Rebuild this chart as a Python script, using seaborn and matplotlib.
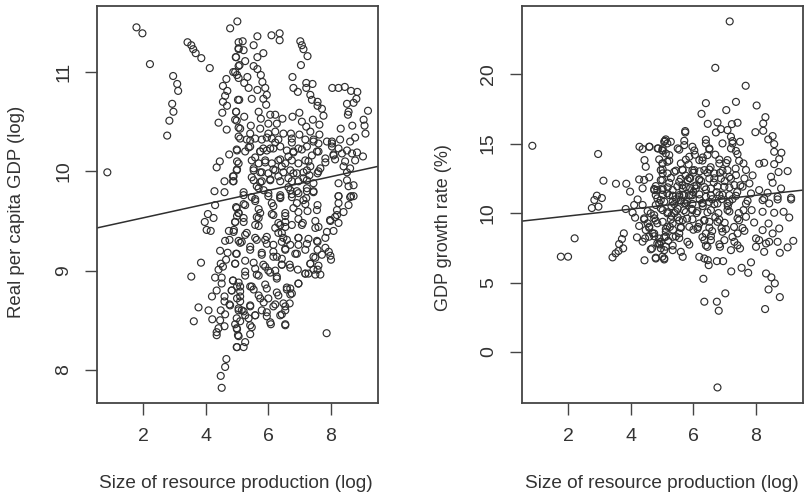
import matplotlib
matplotlib.use("Agg")
import matplotlib.pyplot as plt
import numpy as np
import pandas as pd
import seaborn as sns

# ---- left panel: log real per capita GDP against log resource production
gdp_a_x = [1.79,1.98,2.22,2.96,3.09,3.12,2.93,2.97,2.84,2.77,0.86,3.42,3.54,3.6,3.68,3.86,4.13,4.78,5.01,
           4.66,4.55,4.69,4.62,4.55,4.68,4.53,4.41,4.67,4.75,4.45,4.35,4.6,4.87,4.28,4.6,4.88,4.96,5.03,4.97,4.94,
           5.05,5.05,5.0,5.0,5.0,4.87,5.05,5.05,5.05,5.0]
gdp_a_y = [11.45,11.39,11.08,10.96,10.88,10.81,10.68,10.6,10.51,10.36,9.99,11.3,11.27,11.23,11.19,11.14,11.04,11.44,11.51,
           10.93,10.86,10.81,10.76,10.7,10.66,10.59,10.49,10.42,10.17,10.1,10.04,9.9,9.9,9.8,9.79,11.0,11.15,10.72,10.6,10.52,
           10.44,10.35,10.21,10.1,10.02,9.95,11.3,11.23,11.06,10.97]

gdp_b_x = [4.3,4.07,4.25,3.97,4.03,4.16,3.85,3.54,3.77,3.62,4.09,4.21,4.2,4.35,4.3,4.51,4.41,4.48,4.55,4.65,
           4.46,4.7,4.62,4.76,4.74,4.9,4.94,5.0,4.97,5.05,4.97,4.94,4.87,4.51,4.83,5.0,4.6,4.6,4.76,4.48,
           4.62,4.46,4.6,4.41,4.35,4.35,5.0,5.05,4.94,5.0,5.03,5.0,4.66,4.62,4.48,4.51]
gdp_b_y = [9.66,9.57,9.53,9.49,9.41,9.4,9.08,8.94,8.63,8.49,8.6,8.51,8.74,8.8,8.93,8.93,9.01,9.07,9.04,9.11,
           9.2,9.18,9.3,9.31,9.4,9.41,9.49,9.55,9.64,9.3,9.17,9.07,8.9,8.87,8.8,8.84,8.74,8.69,8.66,8.6,
           8.56,8.5,8.44,8.42,8.38,8.35,8.72,8.6,8.46,8.41,8.35,8.23,8.11,8.03,7.94,7.82]

gdp_c_x = [5.65,6.1,6.36,6.36,5.53,5.18,5.05,5.21,5.84,4.97,5.26,5.65,5.08,5.53,5.65,4.94,5.05,5.33,5.76,5.81,
           5.23,5.37,5.65,5.9,5.95,5.47,5.07,5.84,5.93,5.69,4.97,5.23,4.99,5.76,6.06,6.22,6.45,6.0,6.27,5.44,5.1,5.74,
           7.02,7.07,7.12,7.25,7.04,6.77,7.21,7.41,7.21,6.8,6.94,7.34,7.39,7.57,7.57,7.71,7.76,
           8.04,8.24,8.44,8.64,8.84,8.81,8.72,8.51,8.56,8.54,9.18,9.04,9.07,9.1,8.68,8.31,
           6.77,6.99,7.07,7.42,7.63,7.21,7.34,6.72,6.99,7.63,7.18,7.44,7.6,7.87,8.03,8.29,8.77,8.61,6.75,
           6.48,6.22,6.0,5.42,5.1,5.31,5.58,5.79,6.11,6.32]
gdp_c_y = [11.36,11.37,11.39,11.32,11.27,11.31,11.24,11.22,11.19,11.15,11.11,11.15,11.07,11.06,11.03,11.0,10.94,10.95,10.97,10.9,
           10.89,10.84,10.82,10.84,10.77,10.73,10.72,10.73,10.67,10.6,10.6,10.55,10.51,10.53,10.57,10.57,10.53,10.48,10.48,10.46,10.43,10.43,
           11.31,11.27,11.23,11.16,11.07,10.95,10.89,10.88,10.84,10.84,10.8,10.77,10.72,10.7,10.66,10.63,10.56,
           10.84,10.84,10.85,10.81,10.8,10.73,10.69,10.68,10.6,10.57,10.61,10.52,10.46,10.38,10.46,10.43,
           10.55,10.59,10.5,10.52,10.47,10.45,10.4,10.38,10.37,10.37,10.32,10.32,10.28,10.3,10.3,10.32,10.34,10.3,10.29,
           10.38,10.4,10.38,10.38,10.33,10.32,10.33,10.32,10.33,10.32]

gdp_d_x = [5.84,5.95,5.74,5.42,5.26,4.99,6.16,6.38,6.59,6.8,6.96,7.23,7.39,7.6,7.82,8.03,8.08,8.24,8.35,8.51,8.67,8.83,9.02,8.77,8.45,8.4,8.61,8.51,7.66,7.57,
           5.47,5.69,5.9,6.11,6.32,6.54,6.75,6.96,7.18,7.34,5.05,4.99,4.89,4.89,
           5.53,5.74,6.0,6.22,6.48,6.7,6.91,7.12,7.31,5.53,5.79,6.06,6.38,6.64,6.96,7.23,
           5.21,5.47,5.69,6.0,6.38,6.7,6.96,7.23,7.44,8.24,8.51,8.72,8.24,8.56,8.61]
gdp_d_y = [10.23,10.21,10.2,10.25,10.2,10.22,10.23,10.25,10.21,10.2,10.23,10.25,10.16,10.2,10.13,10.25,10.16,10.23,10.18,10.21,10.18,10.19,10.15,10.11,10.1,10.05,10.03,9.99,10.03,9.98,
           10.11,10.08,10.11,10.08,10.11,10.08,10.11,10.08,10.11,10.05,10.08,10.01,9.95,9.9,
           10.01,9.99,9.98,10.01,9.99,10.01,9.98,9.99,9.96,9.91,9.9,9.91,9.9,9.93,9.9,9.91,
           9.79,9.74,9.83,9.78,9.76,9.81,9.78,9.8,9.8,9.88,9.91,9.86,9.75,9.85,9.74]

gdp_e_x = [8.24,8.64,8.72,8.56,8.24,8.19,8.4,8.13,7.97,8.24,8.08,7.87,7.57,7.5,7.6,7.82,7.57,7.28,6.96,7.1,7.25,7.21,6.91,6.75,6.96,6.38,6.54,6.16,5.74,5.69,5.58,
           5.21,5.05,5.21,4.94,4.99,6.11,5.58,6.38,6.54,6.22,6.75,6.32,6.48,6.59,6.43,6.7,6.96,7.18,6.86,6.54,6.16,6.27,6.43,6.43,6.68,6.94,7.18,7.34,7.44,7.57,7.71,7.93,8.0,
           7.44,7.57,7.66,7.28,6.96,6.7,6.59,6.75,6.68,6.48,6.54,6.38,6.16,6.32,6.54,6.08,5.95,5.79,6.0,5.95,6.27,6.22,6.0,5.84,5.58,5.63,5.26,5.79,5.26,4.94,4.99,5.42,
           5.15,5.58,5.9,5.95,5.31,4.89,4.87,5.1,5.47,5.53,5.74,5.1,5.05,5.42,5.58,5.37,4.99,4.99,5.05,5.42,5.47,5.26,5.21,4.99,7.86,4.78,4.83,5.26,5.15,6.54]
gdp_e_y = [9.75,9.75,9.75,9.66,9.68,9.61,9.59,9.54,9.51,9.48,9.4,9.39,9.66,9.5,9.44,9.33,9.29,9.32,9.33,9.48,9.6,9.73,9.68,9.74,9.59,9.74,9.58,9.56,9.58,9.53,9.46,
           9.67,9.58,9.53,9.49,9.63,9.68,9.7,9.46,9.44,9.43,9.46,9.38,9.33,9.31,9.29,9.26,9.26,9.21,9.17,9.21,9.19,9.14,9.12,9.06,9.06,9.01,8.97,9.07,9.14,9.21,9.16,9.19,9.11,
           9.01,9.01,8.96,8.97,8.87,8.82,8.81,8.77,8.67,8.67,8.6,8.55,8.64,8.75,8.45,8.46,8.54,8.6,8.72,8.82,8.92,9.0,9.0,9.06,9.02,8.96,8.95,9.16,9.1,9.07,9.17,9.21,
           9.29,9.33,9.31,9.27,9.38,9.39,8.9,8.84,8.84,8.81,8.72,8.74,8.62,8.64,8.55,8.52,8.52,8.42,8.34,8.36,8.43,8.28,8.23,8.23,8.37,8.65,8.8,8.55,8.6,9.49]

# second reading of the dense middle of the left panel
gdp_f_x = [5.42,5.95,6.22,6.75,7.44,8.03, 5.37,5.74,6.06,6.8,7.07,7.55,8.08, 5.58,5.9,6.38,6.64,7.28,7.82,8.13,
           5.53,5.79,6.16,6.43,6.8,7.23,7.6, 5.47,5.74,6.06,6.32,6.75,7.12,7.44, 5.63,5.85,6.64,6.91,7.23,7.44,
           5.21,5.58,6.0,6.38,6.75,7.12, 5.26,5.69,6.16,6.8,7.18,7.55, 5.05,5.63,6.11,6.54,6.96,8.19, 5.21,5.69,6.32,7.07,7.5,7.98]
gdp_f_y = [10.31,10.34,10.29,10.33,10.3,10.28, 10.24,10.2,10.23,10.19,10.22,10.2,10.17, 10.14,10.09,10.12,10.15,10.1,10.09,10.12,
           10.03,9.99,10.02,10.05,9.98,10.01,10.0, 9.94,9.89,9.92,9.95,9.9,9.93,9.88, 9.85,9.81,9.84,9.8,9.83,9.79,
           9.76,9.72,9.75,9.73,9.77,9.71, 9.66,9.62,9.65,9.63,9.67,9.61, 9.58,9.54,9.57,9.55,9.52,9.56, 9.49,9.45,9.48,9.46,9.43,9.5]

gdp_g_x = [5.26,5.63,5.95,6.43,6.96,7.55, 5.1,5.42,6.16,6.54,7.23,7.82, 5.79,6.16,6.91,7.5,7.98, 5.53,5.9,6.43,6.7,7.34,7.6,
           5.26,5.69,6.06,6.27,7.18,7.5, 5.05,5.42,5.9,6.59,6.96, 5.1,5.69,6.27,6.7, 5.1,5.42,5.85,6.22,6.54, 5.21,5.58,5.95,6.43, 5.1,5.42,6.06,6.54]
gdp_g_y = [9.36,9.31,9.34,9.38,9.33,9.3, 9.28,9.24,9.26,9.22,9.27,9.23, 9.18,9.14,9.17,9.13,9.15, 9.08,9.04,9.06,9.03,9.07,9.05,
           8.99,8.95,8.98,8.94,8.97,8.96, 8.88,8.84,8.86,8.83,8.87, 8.79,8.75,8.78,8.76, 8.69,8.65,8.68,8.66,8.64, 8.59,8.55,8.58,8.56, 8.49,8.45,8.48,8.46]

# ---- right panel: GDP growth rate against log resource production
growth_a_x = [0.86,2.96,3.13,3.53,3.86,3.98,3.08,2.92,2.84,2.76,2.97,2.21,1.77,2.0,3.78,3.72,3.63,3.76,3.61,3.52,3.42,4.44,4.8,5.07,
              4.28,4.6,4.88,5.01,5.09,4.44,4.48,4.59,4.43,4.27,4.38,4.75,5.01,4.96,5.01,4.85,5.01,4.85,5.07,4.96,4.22,4.11,3.84,4.38,4.06,4.14,
              4.43,4.64,4.75,4.27,4.2,4.38,4.48,4.59,4.46,4.7,4.59,4.64,4.85,4.96,5.12,5.12,4.96,5.17,5.17,5.17,5.17,5.17,5.12,5.17,4.8,4.54,4.85,5.01]
growth_a_y = [14.84,14.25,12.33,12.11,12.11,11.54,11.08,11.25,10.94,10.36,10.46,8.18,6.86,6.86,8.54,8.13,7.77,7.46,7.27,7.1,6.81,6.6,6.79,6.74,
              14.77,14.77,14.65,14.53,15.2,13.81,13.33,12.57,12.38,12.42,11.78,11.73,13.57,13.09,12.38,11.66,11.66,11.06,10.82,10.34,10.98,10.58,10.29,10.58,10.03,9.67,
              9.62,9.98,9.62,9.07,8.25,7.94,8.78,8.3,8.18,8.54,9.02,7.39,7.82,7.46,7.58,8.3,7.94,9.02,9.98,11.42,12.85,13.69,14.29,15.01,10.58,9.26,9.26,6.86]

growth_b_x = [7.16,6.7,7.67,6.4,7.36,8.02,7.05,6.26,8.3,6.46,6.77,7.23,7.41,8.23,6.88,7.09,6.72,7.98,8.23,5.74,5.74,8.39,8.53,8.58,8.58,8.81,8.74,8.58,8.26,8.1,9.01,8.72,7.89,
              7.2,6.93,7.25,7.49,7.2,7.41,7.6,7.09,6.83,6.4,6.51,6.45,5.97,5.71,5.28,5.07,5.02,5.5,4.59,4.86,5.23,5.02,5.6,5.87,6.19,6.03,5.66,5.39,5.02,
              6.35,6.67,7.09,7.36,7.63,6.88,6.51,6.19,5.82,5.55,5.23,4.96,8.48,8.53,7.79,7.31,6.99,6.56,6.08,5.66,5.34,5.02,4.75,
              4.8,5.23,5.55,5.97,6.4,6.83,7.15,7.84,8.1,8.37,8.8,9.12,8.69,8.26]
growth_b_y = [23.79,20.45,19.16,17.91,18.0,17.74,17.41,17.14,16.9,16.42,16.52,16.4,16.5,16.45,16.04,15.97,15.8,15.82,15.92,15.9,15.8,15.3,15.54,14.96,14.41,14.34,13.88,13.52,13.62,13.55,13.02,12.95,12.71,
              15.49,15.01,15.01,15.13,14.65,14.24,13.57,13.81,13.57,15.01,14.65,14.17,14.77,14.89,15.13,15.13,14.65,14.65,14.77,14.65,14.17,13.57,13.57,14.05,13.81,13.09,13.09,12.97,12.85,
              13.09,12.85,13.09,12.73,12.49,12.49,12.49,12.37,12.37,12.25,12.18,12.37,12.61,12.18,12.13,12.01,11.89,11.77,11.77,11.77,11.65,11.77,11.65,
              11.29,11.29,11.17,11.29,11.17,11.29,11.29,11.41,11.65,11.46,11.77,11.1,11.17,11.05]

growth_c_x = [6.77,6.35,6.75,6.81,7.02,6.32,8.29,8.76,8.4,8.6,8.49,8.32,7.21,7.75,7.54,7.84,6.95,6.75,6.49,6.46,6.35,6.19,5.66,5.07,4.8,
              8.76,9.01,9.19,8.69,8.26,8.0,8.32,8.1,8.42,7.2,7.49,6.85,6.45,5.81,5.6,5.34,5.07,4.68,4.91,6.35,6.56,6.99,7.31,7.41,7.63,8.0,8.21,8.53,8.74,8.4,7.94,7.41,7.68,
              8.21,8.58,8.88,9.06,7.6,7.86,7.73,8.21,8.42,8.69,9.12,6.77,6.51,6.19,5.87,5.66,5.34,5.12,4.75,5.02,4.75,5.02,5.34,4.96,5.76,5.97,6.29,6.56,6.77,7.09,6.4,5.55,5.34,4.91,6.93,7.15,5.87,5.55]
growth_c_y = [-2.55,3.62,3.62,2.97,4.22,5.27,3.09,3.95,4.5,4.94,5.37,5.65,5.8,5.7,6.06,6.45,6.54,6.54,6.25,6.61,6.73,6.85,6.85,6.66,6.73,
              7.14,7.53,8.0,7.93,7.21,7.57,7.81,8.05,7.93,7.33,7.45,7.57,7.57,7.93,7.21,7.33,7.33,7.45,7.81,8.05,8.05,8.05,7.93,8.53,8.72,8.17,8.77,8.53,8.89,9.25,9.32,9.61,9.73,
              10.09,10.02,10.09,9.68,10.21,10.21,10.88,10.93,10.69,10.98,10.98,9.37,9.37,9.25,9.01,9.49,9.25,8.65,8.53,9.37,9.85,10.21,10.81,10.93,10.69,10.21,10.69,10.21,10.69,10.21,8.53,8.53,8.29,8.17,8.65,10.81,11.29,11.29]

growth_d_x = [5.2,5.25,5.3,5.3,5.35,5.4,5.45,5.5,5.5,5.55,5.6,5.6,5.65,5.7,5.7,5.75,5.8,5.8,5.85,5.9,5.9,5.95,6.0,6.0,6.0,6.05,6.1,6.1,6.15,6.2,
              6.2,6.25,6.3,6.3,6.35,6.4,6.45,6.5,6.55,6.6,6.6,6.65,6.7,6.7,6.75,6.8,6.85,6.9,6.9,7.0,7.0,7.05,7.1,7.15,7.25,7.3,7.35,7.4,7.45,7.5]
growth_d_y = [8.0,9.0,9.8,10.5,8.8,10.0,11.0,9.7,10.3,8.2,10.9,9.0,12.0,10.2,11.3,12.7,9.6,10.8,13.5,11.8,12.5,10.3,8.8,11.5,12.9,14.2,10.0,12.0,9.0,11.0,
              13.0,12.3,14.0,10.5,9.5,11.7,12.9,10.8,13.3,11.0,8.7,12.2,9.7,14.2,11.5,10.0,12.9,8.9,11.0,12.3,9.3,13.6,10.5,12.6,11.0,9.0,13.2,11.5,10.0,12.0]

# second reading of the dense middle of the right panel
growth_e_x = [5.12,5.71,6.4,7.25, 4.38,5.02,5.55,6.03,6.51,7.36, 4.91,5.23,5.76,6.29,6.83,7.46,
              5.02,5.44,5.65,5.97,6.51,6.93,7.68, 5.28,5.6,5.87,6.19,6.67,7.2,
              4.8,5.18,5.49,5.76,6.03,6.35,6.77,7.15,7.57, 5.02,5.34,5.65,5.92,6.19,6.56,6.93,7.36]
growth_e_y = [15.3,15.2,15.27,15.18, 14.6,14.48,14.56,14.5,14.58,14.47, 13.86,13.77,13.84,13.78,13.85,13.76,
              13.14,13.05,13.12,13.07,13.13,13.04,13.1, 12.53,12.46,12.52,12.44,12.5,12.47,
              11.94,11.85,11.92,11.86,11.93,11.87,11.91,11.84,11.9, 11.33,11.25,11.31,11.27,11.34,11.26,11.32,11.24]

growth_f_x = [4.91,5.39,5.71,5.97,6.29,6.67,7.09,7.68, 4.54,5.18,5.44,5.76,6.13,6.45,7.15,
              4.43,4.8,5.28,5.55,5.97,6.35,6.83,7.46, 4.59,5.12,5.6,6.13,6.51,7.04,7.57,
              4.75,5.07,5.44,6.29,6.56,7.25, 4.91,5.34,5.87,6.4,6.83,7.41]
growth_f_y = [10.72,10.65,10.71,10.66,10.73,10.64,10.7,10.67, 10.14,10.06,10.12,10.07,10.13,10.05,10.11,
              9.54,9.46,9.53,9.47,9.55,9.45,9.52,9.48, 8.94,8.86,8.93,8.87,8.95,8.85,8.92,
              8.33,8.26,8.32,8.27,8.34,8.28, 7.74,7.66,7.73,7.67,7.75,7.68]

# ---- fitted lines, read at the two edges of each box
line_x = [0.53, 9.5]
gdp_line_y = [9.43, 10.05]
growth_line_y = [9.42, 11.65]

# ---- tick labels and axis titles
x_ticks = [2, 4, 6, 8]
gdp_ticks = [8, 9, 10, 11]
growth_ticks = [0, 5, 10, 15, 20]
x_title = "Size of resource production (log)"
gdp_title = "Real per capita GDP (log)"
growth_title = "GDP growth rate (%)"

sns.set_theme(style="white")
plt.rcParams["font.family"] = ["Liberation Sans", "DejaVu Sans"]

W, H = 806, 499
fig = plt.figure(figsize=(W / 100, H / 100), dpi=100)
ink = "#2f2f2f"
txt = "#333333"


def panel(left, right, xs, ys, line_y, ylim, yticks, ytitle, ytitle_x, ytitle_y, title_x, ytitle_size):
    ax = fig.add_axes([left / W, 1 - 403 / H, (right - left) / W, (403 - 6) / H])
    df = pd.DataFrame({"x": xs, "y": ys})
    sns.scatterplot(data=df, x="x", y="y", ax=ax, s=25, facecolor="none",
                    edgecolor=ink, linewidth=0.85, legend=False)
    sns.lineplot(x=line_x, y=line_y, ax=ax, color=ink, linewidth=1.1,
                 errorbar=None, estimator=None)
    ax.set_xlim(0.53, 9.5)
    ax.set_ylim(*ylim)
    ax.set_xticks(x_ticks)
    ax.set_yticks(yticks)
    ax.tick_params(axis="both", direction="out", length=8.5, width=1.0, color="#444444",
                   left=True, bottom=True, labelsize=14, labelcolor=txt, pad=9.5)
    for lab in ax.get_yticklabels():
        lab.set_rotation(90)
        lab.set_va("center")
    for sp in ax.spines.values():
        sp.set_visible(True)
        sp.set_color("#444444")
        sp.set_linewidth(1.3)
    ax.set_xlabel("")
    ax.set_ylabel("")
    fig.text(title_x / W, 1 - 484 / H, x_title, ha="center", va="center", fontsize=13.7, color=txt)
    fig.text(ytitle_x / W, 1 - ytitle_y / H, ytitle, ha="center", va="center", rotation=90,
             fontsize=ytitle_size, color=txt)
    return ax


panel(97, 378, gdp_a_x + gdp_b_x + gdp_c_x + gdp_d_x + gdp_e_x + gdp_f_x + gdp_g_x,
      gdp_a_y + gdp_b_y + gdp_c_y + gdp_d_y + gdp_e_y + gdp_f_y + gdp_g_y,
      gdp_line_y, (7.667, 11.665), gdp_ticks, gdp_title, 17, 212, 236, 13.4)
panel(522, 803, growth_a_x + growth_b_x + growth_c_x + growth_d_x + growth_e_x + growth_f_x,
      growth_a_y + growth_b_y + growth_c_y + growth_d_y + growth_e_y + growth_f_y,
      growth_line_y, (-3.67, 24.9), growth_ticks, growth_title, 443, 228, 662, 13.0)

fig.savefig("out.png", dpi=100)
